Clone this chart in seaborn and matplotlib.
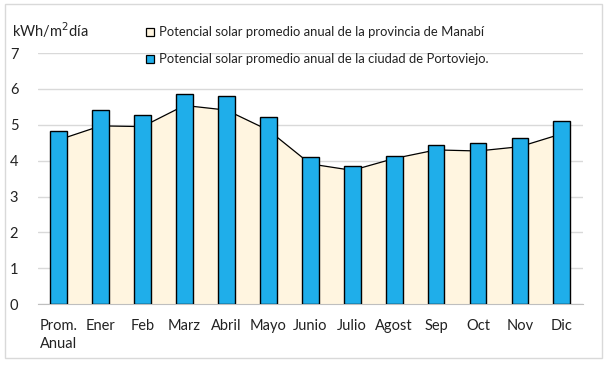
import numpy as np
import pandas as pd
import matplotlib
matplotlib.use("Agg")
import matplotlib.pyplot as plt
import seaborn as sns
from matplotlib.patches import Patch, Rectangle

# Data
meses = ['Prom.\nAnual', 'Ener', 'Feb', 'Marz', 'Abril', 'Mayo', 'Junio',
         'Julio', 'Agost', 'Sep', 'Oct', 'Nov', 'Dic']
portoviejo = [4.82, 5.40, 5.26, 5.85, 5.79, 5.21, 4.09, 3.84, 4.12, 4.43, 4.48, 4.62, 5.10]
manabi = [4.58, 4.97, 4.95, 5.54, 5.41, 4.85, 3.91, 3.73, 4.06, 4.30, 4.27, 4.39, 4.75]
yticks = [0, 1, 2, 3, 4, 5, 6, 7]

lbl_manabi = 'Potencial solar promedio anual de la provincia de Manabí'
lbl_porto = 'Potencial solar promedio anual de la ciudad de Portoviejo.'

sns.set_style("white")
plt.rcParams['font.family'] = ['Lato', 'DejaVu Sans']

df = pd.DataFrame({'mes': meses, 'porto': portoviejo, 'manabi': manabi})

fig = plt.figure(figsize=(6.09, 3.66), dpi=100)
ax = fig.add_axes([0.062, 0.169, 0.895, 0.686])

# outer frame
fig.patches.append(Rectangle((0.008, 0.022), 0.98, 0.966, transform=fig.transFigure,
                             fill=False, edgecolor='#D9D9D9', lw=1))

# area series
x = np.arange(len(meses))
ax.fill_between(x, 0, df['manabi'], color='#FFF5E0', zorder=1)
ax.plot(x, df['manabi'], color='black', lw=0.9, zorder=2)

# bars
sns.barplot(data=df, x='mes', y='porto', color='#1FAEEA', width=0.4,
            edgecolor='black', linewidth=1, saturation=1, ax=ax, zorder=3)

ax.set_xlim(-0.5, len(meses) - 0.5)
ax.set_ylim(0, 7)
ax.set_yticks(yticks)
ax.yaxis.grid(True, color='#D9D9D9', lw=1)
ax.set_axisbelow(True)
for s in ['top', 'right', 'left']:
    ax.spines[s].set_visible(False)
ax.spines['bottom'].set_color('#BFBFBF')
ax.tick_params(axis='both', length=0, labelsize=10.5, colors='#222222')
ax.tick_params(axis='x', pad=11)
ax.tick_params(axis='y', pad=14)
for t in ax.get_xticklabels():
    t.set_horizontalalignment('center')
    t.set_multialignment('left')
    t.set_linespacing(1.35)
ax.set_xlabel('')
ax.set_ylabel('')

fig.text(0.02, 0.918, 'kWh/m$^{2}$día', fontsize=10.5, color='#222222', va='center')

handles = [Patch(facecolor='#FFF5E0', edgecolor='black', lw=0.9),
           Patch(facecolor='#1FAEEA', edgecolor='black', lw=0.9)]
fig.legend(handles, [lbl_manabi, lbl_porto], loc='upper left',
           bbox_to_anchor=(0.24, 0.928), frameon=False, fontsize=9.4,
           borderpad=0, borderaxespad=0,
           handlelength=0.6, handleheight=0.6, handletextpad=0.4,
           labelspacing=1.15, labelcolor='#222222')

fig.savefig('out.png', dpi=100)
